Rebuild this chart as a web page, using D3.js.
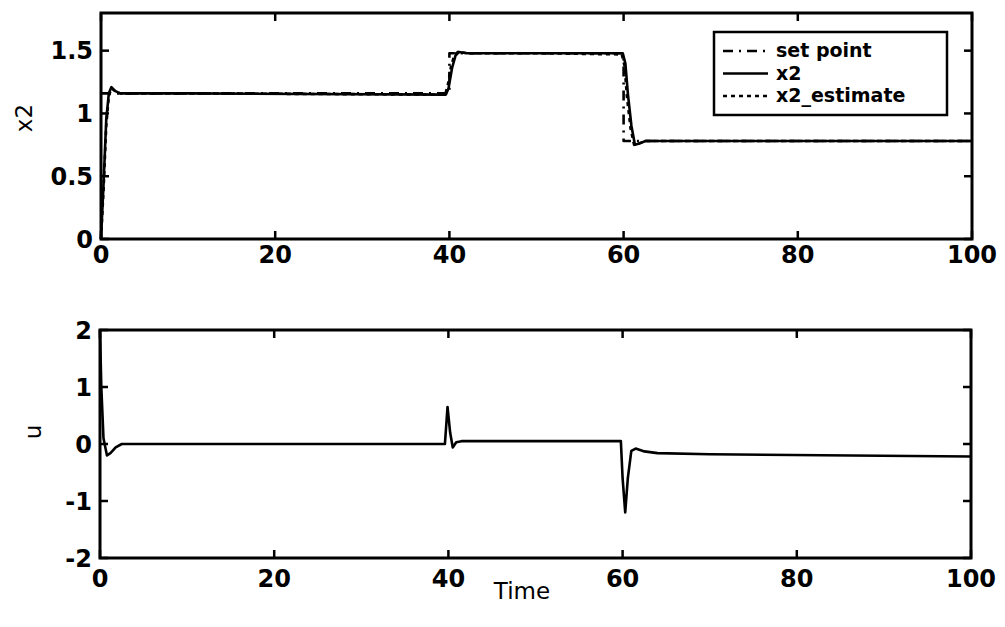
<!DOCTYPE html>
<html>
<head>
<meta charset="utf-8">
<script src="https://cdn.jsdelivr.net/npm/d3@7"></script>
<style>
  body { margin: 0; background: #fff; }
  svg { display: block; }
  text { font-family: "DejaVu Sans", Arial, sans-serif; fill: #000; }
  .tick-label { font-size: 24px; font-weight: bold; }
  .axis-label { font-size: 23px; }
  .legend text { font-size: 19px; font-weight: bold; }
</style>
</head>
<body>
<div id="chart"></div>
<script>
// values

// top panel: set point, x2, x2_estimate
const spTime = [0, 40, 40, 60, 60, 100];
const spValue = [1.16, 1.16, 1.48, 1.48, 0.78, 0.78];

const x2Time = [0, 0.3, 0.6, 0.9, 1.2, 1.6, 2.2, 3, 10, 39.6, 39.9, 40.3, 40.7, 41.1, 42, 50, 59.9, 60.2, 60.5, 60.9, 61.3, 61.8, 62.5, 70, 100];
const x2Value = [0, 0.45, 0.95, 1.16, 1.21, 1.18, 1.16, 1.16, 1.16, 1.15, 1.2, 1.36, 1.46, 1.49, 1.48, 1.48, 1.48, 1.4, 1.15, 0.9, 0.75, 0.76, 0.78, 0.78, 0.78];

const estTime = [0, 0.3, 0.6, 0.9, 1.2, 1.6, 2.2, 3, 10, 39.5, 39.8, 40.2, 40.6, 41.0, 42, 50, 59.8, 60.1, 60.4, 60.8, 61.2, 61.7, 62.5, 70, 100];
const estValue = [0, 0.4, 0.9, 1.14, 1.2, 1.18, 1.16, 1.16, 1.16, 1.15, 1.22, 1.38, 1.47, 1.49, 1.48, 1.48, 1.47, 1.38, 1.12, 0.88, 0.75, 0.76, 0.78, 0.78, 0.78];

// bottom panel: control signal u
const uTime = [0, 0.15, 0.4, 0.8, 1.2, 1.8, 2.5, 4, 20, 39.6, 39.9, 40.2, 40.5, 40.9, 41.5, 43, 50, 59.8, 60.0, 60.3, 60.6, 61.0, 61.5, 62.5, 64, 70, 100];
const uValue = [2, 1.0, 0.1, -0.2, -0.16, -0.06, 0, 0, 0, 0, 0.65, 0.2, -0.06, 0.03, 0.05, 0.05, 0.05, 0.05, -0.6, -1.2, -0.6, -0.12, -0.08, -0.13, -0.16, -0.18, -0.22];

const xTicks = [0, 20, 40, 60, 80, 100];
const topYTicks = [0, 0.5, 1, 1.5];
const botYTicks = [-2, -1, 0, 1, 2];
const legendNames = ['set point', 'x2', 'x2_estimate'];
const legendDash = ['10,6,2,6', null, '4,4'];

const W = 1005, H = 627;
const svg = d3.select('#chart').append('svg')
  .attr('width', W)
  .attr('height', H);

const panels = [
  { left: 101, right: 972, top: 13, bottom: 239, yDomain: [0, 1.8], yTicks: topYTicks, labelGap: 24, yLabel: 'x2', yLabelX: 24, yLabelY: 118 },
  { left: 100, right: 971, top: 330, bottom: 558, yDomain: [-2, 2], yTicks: botYTicks, labelGap: 29, yLabel: 'u', yLabelX: 33, yLabelY: 432 }
];

function drawPanel(p) {
  const x = d3.scaleLinear().domain([0, 100]).range([p.left, p.right]);
  const y = d3.scaleLinear().domain(p.yDomain).range([p.bottom, p.top]);
  const g = svg.append('g');
  const tl = 8; // inward tick length

  // ticks on all four sides, pointing inward
  xTicks.forEach(t => {
    g.append('line').attr('x1', x(t)).attr('x2', x(t)).attr('y1', p.bottom).attr('y2', p.bottom - tl);
    g.append('line').attr('x1', x(t)).attr('x2', x(t)).attr('y1', p.top).attr('y2', p.top + tl);
  });
  p.yTicks.forEach(t => {
    g.append('line').attr('x1', p.left).attr('x2', p.left + tl).attr('y1', y(t)).attr('y2', y(t));
    g.append('line').attr('x1', p.right).attr('x2', p.right - tl).attr('y1', y(t)).attr('y2', y(t));
  });
  g.selectAll('line').attr('stroke', '#000').attr('stroke-width', 2.5);

  g.append('rect')
    .attr('x', p.left).attr('y', p.top)
    .attr('width', p.right - p.left).attr('height', p.bottom - p.top)
    .attr('fill', 'none').attr('stroke', '#000').attr('stroke-width', 3);

  g.selectAll('text.xt')
    .data(xTicks)
    .join('text')
    .attr('class', 'tick-label xt')
    .attr('x', d => x(d))
    .attr('y', p.bottom + p.labelGap)
    .attr('text-anchor', 'middle')
    .text(d => d);

  g.selectAll('text.yt')
    .data(p.yTicks)
    .join('text')
    .attr('class', 'tick-label yt')
    .attr('x', p.left - 8)
    .attr('y', d => y(d))
    .attr('dy', '0.36em')
    .attr('text-anchor', 'end')
    .text(d => d);

  g.append('text')
    .attr('class', 'axis-label')
    .attr('transform', `translate(${p.yLabelX},${p.yLabelY}) rotate(-90)`)
    .attr('text-anchor', 'middle')
    .attr('dy', '0.35em')
    .text(p.yLabel);

  return { x, y, g };
}

function drawSeries(ax, times, values, dash) {
  const line = d3.line()
    .x(d => ax.x(d[0]))
    .y(d => ax.y(d[1]));
  ax.g.append('path')
    .datum(d3.zip(times, values))
    .attr('d', line)
    .attr('fill', 'none')
    .attr('stroke', '#000')
    .attr('stroke-width', 2.6)
    .attr('stroke-linejoin', 'round')
    .attr('stroke-dasharray', dash);
}

const topAx = drawPanel(panels[0]);
drawSeries(topAx, spTime, spValue, legendDash[0]);
drawSeries(topAx, x2Time, x2Value, legendDash[1]);
drawSeries(topAx, estTime, estValue, legendDash[2]);

const botAx = drawPanel(panels[1]);
drawSeries(botAx, uTime, uValue, null);

botAx.g.append('text')
  .attr('class', 'axis-label')
  .attr('x', 522)
  .attr('y', 599)
  .attr('text-anchor', 'middle')
  .text('Time');

// legend
const lg = svg.append('g').attr('class', 'legend');
lg.append('rect')
  .attr('x', 714).attr('y', 32)
  .attr('width', 233).attr('height', 83)
  .attr('fill', '#fff').attr('stroke', '#000').attr('stroke-width', 2.5);
legendNames.forEach((name, i) => {
  const cy = 51 + i * 22.5;
  lg.append('line')
    .attr('x1', 723).attr('x2', 768).attr('y1', cy).attr('y2', cy)
    .attr('stroke', '#000').attr('stroke-width', 2.5)
    .attr('stroke-dasharray', legendDash[i]);
  lg.append('text')
    .attr('x', 776).attr('y', cy)
    .attr('dy', '0.34em')
    .text(name);
});
</script>
</body>
</html>
